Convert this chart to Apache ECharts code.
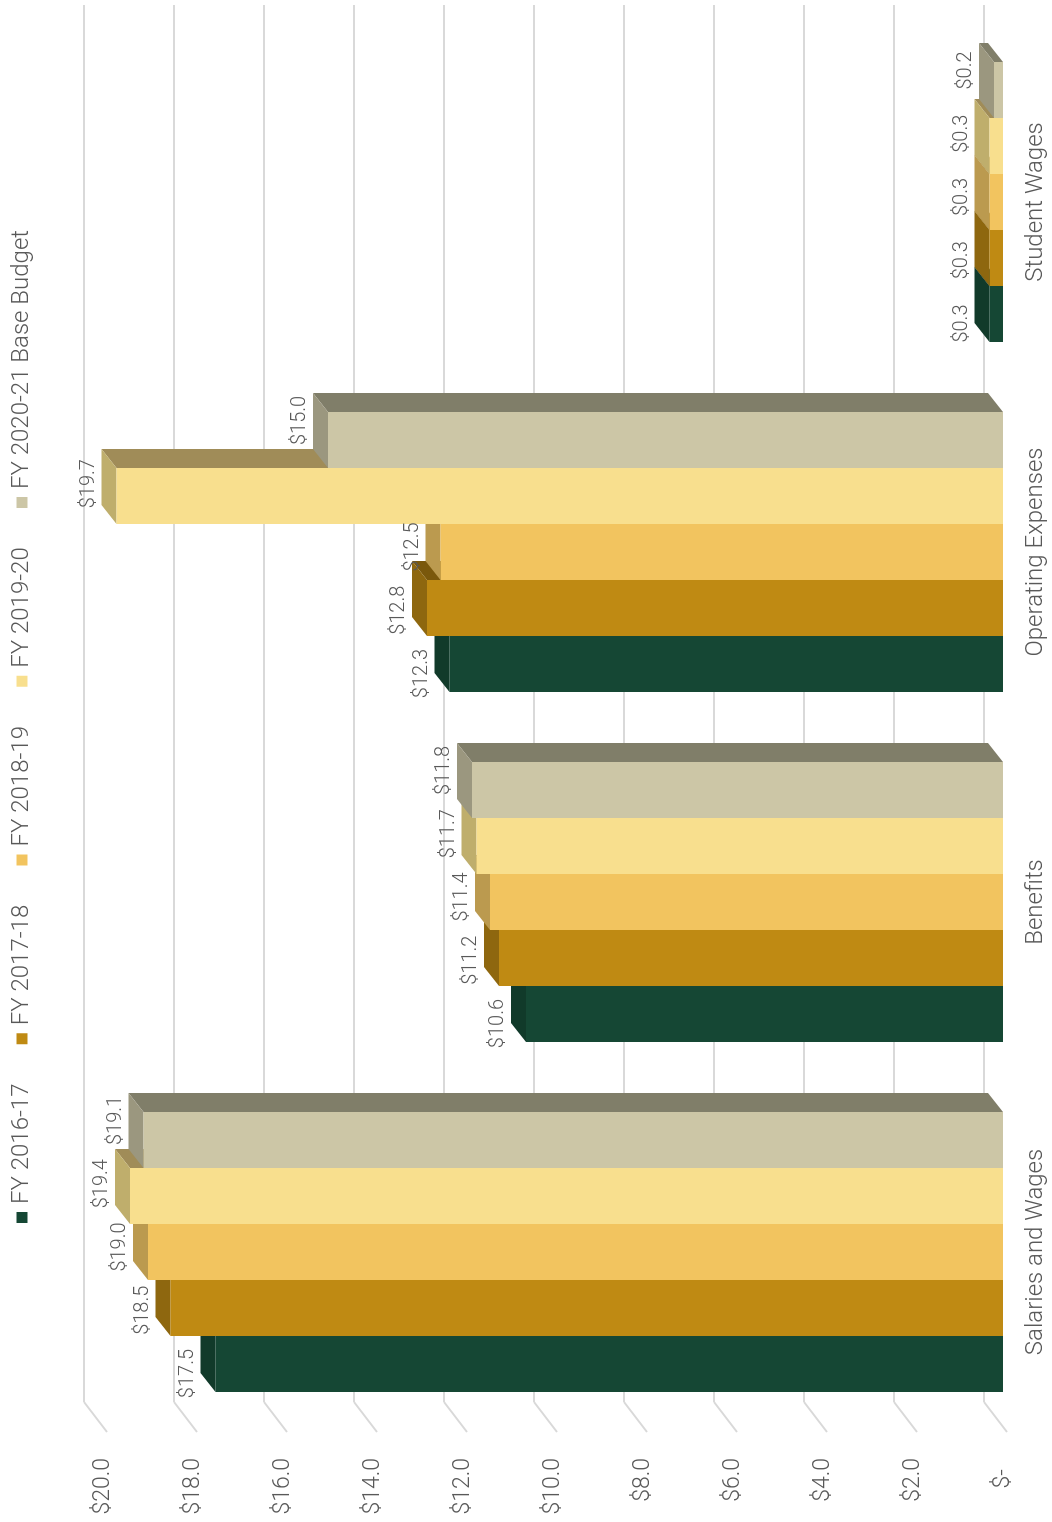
<!DOCTYPE html>
<html><head><meta charset="utf-8">
<script src="https://cdn.jsdelivr.net/npm/echarts@6/dist/echarts.min.js"></script>
<style>
html,body{margin:0;padding:0;overflow:hidden;background:#fff;width:1052px;height:1522px}
#chart{position:absolute;left:0;top:0;width:1522px;height:1052px;transform-origin:0 0;transform:translate(0,1522px) rotate(-90deg);}
</style></head><body><div id="chart"></div>
<script>
const categories = ['Salaries and Wages', 'Benefits', 'Operating Expenses', 'Student Wages'];
const seriesNames = ['FY 2016-17', 'FY 2017-18', 'FY 2018-19', 'FY 2019-20', 'FY 2020-21 Base Budget'];
const fy2016_17 = [17.5, 10.6, 12.3, 0.3];
const fy2017_18 = [18.5, 11.2, 12.8, 0.3];
const fy2018_19 = [19.0, 11.4, 12.5, 0.3];
const fy2019_20 = [19.4, 11.7, 19.7, 0.3];
const fy2020_21 = [19.1, 11.8, 15.0, 0.2];
const valueTicks = [0, 2, 4, 6, 8, 10, 12, 14, 16, 18, 20];

const seriesValues = [fy2016_17, fy2017_18, fy2018_19, fy2019_20, fy2020_21];
const palette = [
  {front:'#154734', top:'#113a2a', side:'#0e3123'},
  {front:'#bf8a13', top:'#8e670f', side:'#7a580c'},
  {front:'#f2c45f', top:'#bb9a4f', side:'#a3864a'},
  {front:'#f8df8e', top:'#bfae6c', side:'#a08c58'},
  {front:'#ccc6a6', top:'#9b977f', side:'#807e69'}
];
const FONT = 'Roboto';
const TXT = '#595959';
const DX = 19, DY = 15;

const chart = echarts.init(document.getElementById('chart'), null, {width:1522, height:1052});

function barSeries(k) {
  const c = palette[k];
  return {
    type:'custom', name: seriesNames[k], xAxisIndex:1, yAxisIndex:1,
    itemStyle:{color:c.front},
    data: seriesValues[k].map((v, i) => [i, v]),
    encode:{x:0, y:1},
    renderItem(params, api) {
      const i = api.value(0), v = api.value(1);
      const top = api.coord([i, v]), base = api.coord([i, 0]);
      const band = api.size([1, 0])[0];
      const w = band * 0.16;
      const x0 = top[0] - 2.5 * w + k * w, x1 = x0 + w;
      const yT = top[1], yB = base[1];
      const lx = top[0] + (k - 2) * w * 1.13 + 5;
      return {type:'group', children:[
        {type:'polygon', shape:{points:[[x1,yT],[x1+DX,yT-DY],[x1+DX,yB-DY],[x1,yB]]}, style:{fill:c.side}},
        {type:'polygon', shape:{points:[[x0,yT],[x1,yT],[x1+DX,yT-DY],[x0+DX,yT-DY]]}, style:{fill:c.top}},
        {type:'rect', shape:{x:x0, y:yT, width:w, height:yB-yT}, style:{fill:c.front}},
        {type:'text', z2:100, style:{text:'$' + v.toFixed(1), x:lx, y:yT - 28,
          align:'center', verticalAlign:'middle', textAlign:'center', textVerticalAlign:'middle',
          fontSize:20, fontFamily:FONT, fontWeight:300, fill:TXT}}
      ]};
    }
  };
}

const floorSeries = {
  type:'custom', xAxisIndex:1, yAxisIndex:1, silent:true,
  data: valueTicks.map(t => [0, t]),
  encode:{x:0, y:1},
  renderItem(params, api) {
    const y = api.coord([0, api.value(1)])[1];
    const gx = params.coordSys.x;
    return {type:'line', shape:{x1:gx + 25, y1:y - 19, x2:gx - 5, y2:y + 4},
      style:{stroke:'#d9d9d9', lineWidth:2}};
  }
};

const legends = seriesNames.map((n, k) => ({
  data:[n], left: 299 + k * 178.75, top: 10, padding:0,
  icon:'rect', itemWidth:11, itemHeight:11, itemGap:0,
  textStyle:{fontSize:24, fontFamily:FONT, fontWeight:300, color:TXT, padding:[0,0,0,3]}
}));

chart.setOption({
  animation:false,
  legend: legends,
  grid:[
    {left:120, right:5, top:84, height:900},
    {left:95, right:27, top:103, height:900}
  ],
  xAxis:[
    {type:'category', gridIndex:0, data:categories, show:false},
    {type:'category', gridIndex:1, data:categories, axisLine:{show:false}, axisTick:{show:false},
      axisLabel:{margin:21, fontSize:24, fontFamily:FONT, fontWeight:300, color:TXT}}
  ],
  yAxis:[
    {type:'value', gridIndex:0, min:0, max:20, interval:2, axisLabel:{show:false}, axisLine:{show:false}, axisTick:{show:false},
      splitLine:{lineStyle:{color:'#d9d9d9', width:2}}},
    {type:'value', gridIndex:1, min:0, max:20, interval:2, splitLine:{show:false}, axisLine:{show:false}, axisTick:{show:false},
      axisLabel:{margin:31, fontSize:23, fontFamily:FONT, fontWeight:300, color:TXT,
        formatter: v => v === 0 ? '$-  ' : '$' + v.toFixed(1)}}
  ],
  series:[floorSeries, ...seriesValues.map((_, k) => barSeries(k))]
});
</script></body></html>
